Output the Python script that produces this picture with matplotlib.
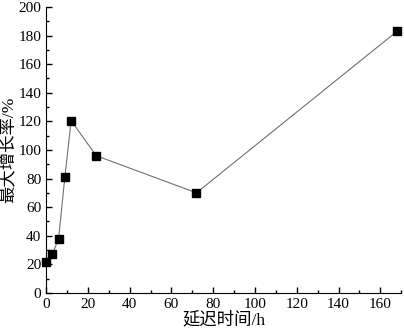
import matplotlib.pyplot as plt
from matplotlib.ticker import MultipleLocator

plt.rcParams['font.family'] = ['Liberation Serif', 'Noto Sans CJK SC']

delay_h = [0, 3, 6, 9, 12, 24, 72, 168]
growth_pct = [21.5, 27, 38, 81, 120.5, 96, 70, 183]

fig = plt.figure(figsize=(4.04, 3.34), dpi=100)
ax = fig.add_axes([0.114, 0.123, 0.879, 0.856])

ax.plot(delay_h, growth_pct, color='#707070', lw=0.8, marker='s',
        markersize=5.5, markerfacecolor='black', markeredgecolor='black',
        clip_on=False, zorder=3)

ax.set_xlim(0, 170)
ax.set_ylim(0, 200)
ax.xaxis.set_major_locator(MultipleLocator(20))
ax.xaxis.set_minor_locator(MultipleLocator(10))
ax.yaxis.set_major_locator(MultipleLocator(20))
ax.yaxis.set_minor_locator(MultipleLocator(10))
ax.tick_params(which='both', direction='in', labelsize=11, width=1)
ax.tick_params(which='major', length=4)
ax.tick_params(which='minor', length=2)
for s in ['top', 'right']:
    ax.spines[s].set_visible(False)

ax.set_xlabel('延迟时间/h', fontsize=12.5, labelpad=1)
ax.set_ylabel('最大增长率/%', fontsize=12.5, labelpad=1)

fig.savefig('out.png', dpi=100)
